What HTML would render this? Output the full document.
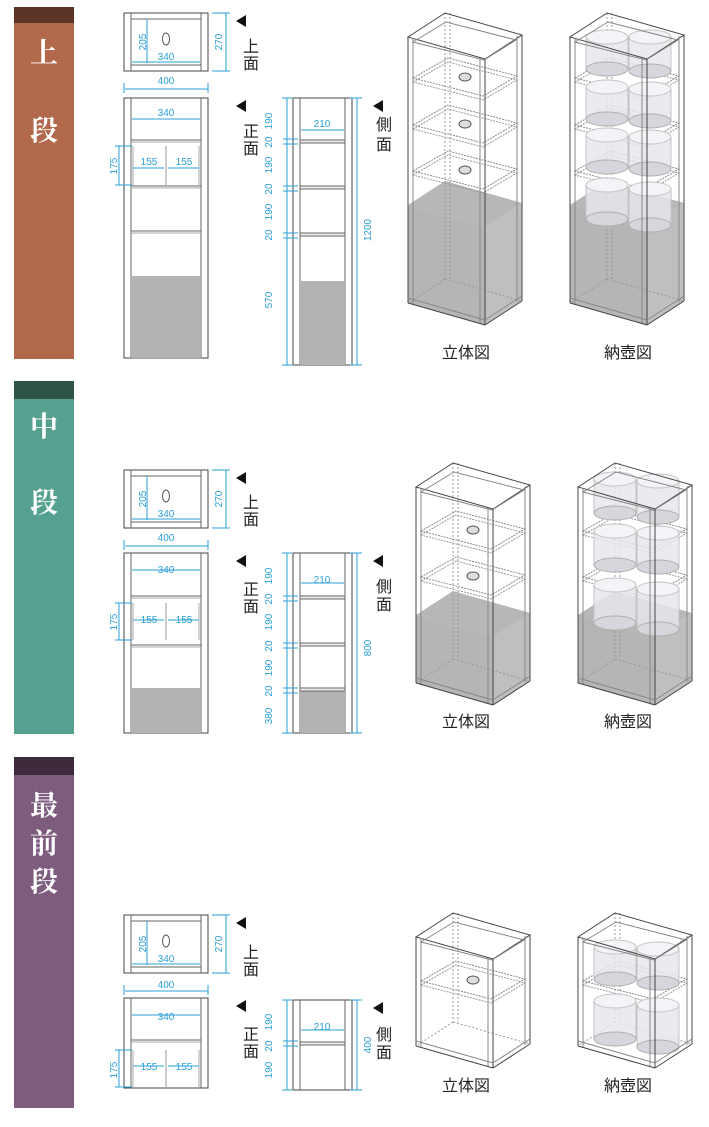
<!DOCTYPE html>
<html><head><meta charset="utf-8"><style>
html,body{margin:0;padding:0;background:#fff;width:709px;height:1127px;overflow:hidden}
svg{display:block}
.b{font-family:"Liberation Sans",sans-serif;font-size:10px;fill:#2a9fd8}
.j{font-family:"Liberation Sans","Noto Sans CJK JP",sans-serif;font-size:16px;fill:#222}
.s{font-family:"Liberation Serif","Noto Serif CJK SC",serif;font-size:28px;fill:#fff;font-weight:bold}
</style></head><body>
<svg id="s" width="709" height="1127" xmlns="http://www.w3.org/2000/svg">
<rect x="14" y="7" width="60" height="16" fill="#5b3426"/><rect x="14" y="23" width="60" height="336" fill="#b2684a"/>
<rect x="14" y="381" width="60" height="18" fill="#2e5448"/><rect x="14" y="399" width="60" height="335" fill="#56a08f"/>
<rect x="14" y="757" width="60" height="18" fill="#3d2b3c"/><rect x="14" y="775" width="60" height="333" fill="#7d5c7e"/>
<text class="s" x="44" y="62" text-anchor="middle">上</text>
<text class="s" x="44" y="140" text-anchor="middle">段</text>
<text class="s" x="44" y="436" text-anchor="middle">中</text>
<text class="s" x="44" y="512" text-anchor="middle">段</text>
<text class="s" x="44" y="815" text-anchor="middle">最</text>
<text class="s" x="44" y="853" text-anchor="middle">前</text>
<text class="s" x="44" y="891" text-anchor="middle">段</text>
<g id="g"></g>
<g class="b">
<text x="166" y="60" text-anchor="middle">340</text>
<text transform="translate(146,42) rotate(-90)" text-anchor="middle">205</text>
<text transform="translate(222,42) rotate(-90)" text-anchor="middle">270</text>
<text x="166" y="84" text-anchor="middle">400</text>
<text x="166" y="116" text-anchor="middle">340</text>
<text transform="translate(117,166) rotate(-90)" text-anchor="middle">175</text>
<text x="149" y="165" text-anchor="middle">155</text>
<text x="184" y="165" text-anchor="middle">155</text>
<text x="322" y="127" text-anchor="middle">210</text>
<text transform="translate(272,121) rotate(-90)" text-anchor="middle">190</text>
<text transform="translate(272,142) rotate(-90)" text-anchor="middle">20</text>
<text transform="translate(272,165) rotate(-90)" text-anchor="middle">190</text>
<text transform="translate(272,189) rotate(-90)" text-anchor="middle">20</text>
<text transform="translate(272,212) rotate(-90)" text-anchor="middle">190</text>
<text transform="translate(272,235) rotate(-90)" text-anchor="middle">20</text>
<text transform="translate(272,300) rotate(-90)" text-anchor="middle">570</text>
<text transform="translate(371,230) rotate(-90)" text-anchor="middle">1200</text>
</g>
<g class="b">
<text x="166" y="517" text-anchor="middle">340</text>
<text transform="translate(146,499) rotate(-90)" text-anchor="middle">205</text>
<text transform="translate(222,499) rotate(-90)" text-anchor="middle">270</text>
<text x="166" y="541" text-anchor="middle">400</text>
<text x="166" y="573" text-anchor="middle">340</text>
<text transform="translate(117,622) rotate(-90)" text-anchor="middle">175</text>
<text x="149" y="623" text-anchor="middle">155</text>
<text x="184" y="623" text-anchor="middle">155</text>
<text x="322" y="583" text-anchor="middle">210</text>
<text transform="translate(272,576) rotate(-90)" text-anchor="middle">190</text>
<text transform="translate(272,599) rotate(-90)" text-anchor="middle">20</text>
<text transform="translate(272,622) rotate(-90)" text-anchor="middle">190</text>
<text transform="translate(272,646) rotate(-90)" text-anchor="middle">20</text>
<text transform="translate(272,668) rotate(-90)" text-anchor="middle">190</text>
<text transform="translate(272,691) rotate(-90)" text-anchor="middle">20</text>
<text transform="translate(272,716) rotate(-90)" text-anchor="middle">380</text>
<text transform="translate(371,648) rotate(-90)" text-anchor="middle">800</text>
</g>
<g class="b">
<text x="166" y="962" text-anchor="middle">340</text>
<text transform="translate(146,944) rotate(-90)" text-anchor="middle">205</text>
<text transform="translate(222,944) rotate(-90)" text-anchor="middle">270</text>
<text x="166" y="988" text-anchor="middle">400</text>
<text x="166" y="1020" text-anchor="middle">340</text>
<text transform="translate(117,1070) rotate(-90)" text-anchor="middle">175</text>
<text x="149" y="1070" text-anchor="middle">155</text>
<text x="184" y="1070" text-anchor="middle">155</text>
<text x="322" y="1030" text-anchor="middle">210</text>
<text transform="translate(272,1022) rotate(-90)" text-anchor="middle">190</text>
<text transform="translate(272,1046) rotate(-90)" text-anchor="middle">20</text>
<text transform="translate(272,1070) rotate(-90)" text-anchor="middle">190</text>
<text transform="translate(371,1045) rotate(-90)" text-anchor="middle">400</text>
</g>
<g class="j">
<text x="243" y="52">上</text><text x="243" y="69">面</text>
<text x="243" y="137">正</text><text x="243" y="154">面</text>
<text x="376" y="130">側</text><text x="376" y="150">面</text>
<text x="243" y="508">上</text><text x="243" y="525">面</text>
<text x="243" y="595">正</text><text x="243" y="612">面</text>
<text x="376" y="592">側</text><text x="376" y="610">面</text>
<text x="243" y="958">上</text><text x="243" y="975">面</text>
<text x="243" y="1040">正</text><text x="243" y="1057">面</text>
<text x="376" y="1040">側</text><text x="376" y="1058">面</text>
<text x="442" y="358">立体図</text><text x="604" y="358">納壺図</text>
<text x="442" y="727">立体図</text><text x="604" y="727">納壺図</text>
<text x="442" y="1091">立体図</text><text x="604" y="1091">納壺図</text>
</g>
</svg>
<script>
var G=document.getElementById('g'),h='';
function L(x1,y1,x2,y2,c,w,d){h+='<line x1="'+x1+'" y1="'+y1+'" x2="'+x2+'" y2="'+y2+'" stroke="'+(c||'#555')+'" stroke-width="'+(w||1)+'"'+(d?' stroke-dasharray="'+d+'"':'')+'/>';}
function R(x,y,w,hh,f,s){h+='<rect x="'+x+'" y="'+y+'" width="'+w+'" height="'+hh+'" fill="'+(f||'none')+'" stroke="'+(s||'none')+'"/>';}
function P(pts,f,s,d,o){h+='<polygon points="'+pts.map(function(p){return p.join(',');}).join(' ')+'" fill="'+(f||'none')+'" stroke="'+(s||'none')+'"'+(d?' stroke-dasharray="'+d+'"':'')+(o?' fill-opacity="'+o+'"':'')+'/>';}
var B='#2a9fd8';
function tri(x,y){P([[x,y+6],[x+10,y],[x+10,y+12]],'#111');}
function topv(y){R(124,y,84,58,'none','#444');L(131,y,131,y+58,'#666');L(201,y,201,y+58,'#666');L(131,y+6,201,y+6,'#666');L(131,y+52,201,y+52,'#666');
 h+='<ellipse cx="166" cy="'+(y+26)+'" rx="3.5" ry="6" fill="none" stroke="#555"/>';
 L(147,y+6,147,y+50,B);L(132,y+49,200,y+49,B);L(226,y,226,y+58,B);L(212,y,230,y,B);L(212,y+58,230,y+58,B);
 L(125,y+76,208,y+76,B);L(124,y+70,124,y+80,B);L(208,y+70,208,y+80,B);tri(236,y+2);}
function frontv(y0,y1,sh,gray,d340,d175a,d175b,d155){R(124,y0,84,y1-y0,'none','#444');L(131,y0,131,y1,'#666');L(201,y0,201,y1,'#666');
 if(gray)R(131,gray,70,y1-gray,'#b3b3b3');
 sh.forEach(function(s){L(131,s,201,s,'#666');L(131,s+2,201,s+2,'#aaa');});
 L(166,d175a,166,d175b,'#999');L(133,d175a,133,d175b,'#aaa');L(199,d175a,199,d175b,'#aaa');
 L(132,d340,200,d340,B);L(119,d175a,119,d175b,B);L(115,d175a,132,d175a,B);L(115,d175b,132,d175b,B);
 L(133,d155,164,d155,B);L(168,d155,199,d155,B);tri(236,y0+2);}
function sidev(y0,y1,sh,gray,d210,ticks){R(293,y0,59,y1-y0,'none','#444');L(300,y0,300,y1,'#666');L(345,y0,345,y1,'#666');
 if(gray)R(300,gray,45,y1-gray,'#b3b3b3');
 sh.forEach(function(s){R(300,s,45,3,'#eee','#666');});
 L(287,y0,287,y1,B);L(357,y0,357,y1,B);L(282,y0,292,y0,B);L(282,y1,292,y1,B);L(350,y0,362,y0,B);L(350,y1,362,y1,B);
 ticks.forEach(function(t){L(283,t,298,t,B);});L(301,d210,344,d210,B);tri(373,y0+2);}
function box(ax,y0,y1,sh,gray,pots){var dx=[77,22],dd=[37,-24],dc=[114,-2];
 function pt(y,o){return [ax+o[0],y+o[1]];}
 if(gray){var g0=gray;P([pt(g0,[0,0]),pt(g0,dd),pt(g0,dc),pt(g0,dx)],'#999',null,null,0.7);
  P([pt(g0,[0,0]),pt(g0,dx),pt(y1,dx),pt(y1,[0,0])],'#a8a8a8',null,null,0.85);
  P([pt(g0,dx),pt(g0,dc),pt(y1,dc),pt(y1,dx)],'#b4b4b4',null,null,0.85);}
 L(ax+dd[0],y0+dd[1],ax+dd[0],y1+dd[1],'#999',1,'2,2');L(ax+dd[0]+5,y0+dd[1],ax+dd[0]+5,y1+dd[1],'#999',1,'2,2');
 L(ax+dd[0],y1+dd[1],ax,y1,'#999',1,'2,2');L(ax+dd[0],y1+dd[1],ax+dc[0],y1+dc[1],'#999',1,'2,2');
 sh.forEach(function(s){P([pt(s,[5,0]),pt(s,[40,-20]),pt(s,[109,-2]),pt(s,[75,18])],'none','#888','2,1');
  P([pt(s+4,[5,0]),pt(s+4,[40,-20]),pt(s+4,[109,-2]),pt(s+4,[75,18])],'none','#999','2,1');
  if(!pots)h+='<ellipse cx="'+(ax+57)+'" cy="'+(s-1)+'" rx="6" ry="4" fill="#ddd" stroke="#555"/>';});
 if(pots)pots.forEach(function(p){var cx=ax+p[0],cy=p[1]+7,w=21,hh=p[2]-14;
  h+='<rect x="'+(cx-w)+'" y="'+cy+'" width="'+(2*w)+'" height="'+hh+'" fill="#e6e6ec" fill-opacity="0.85" stroke="#c4c4c4"/>';
  h+='<ellipse cx="'+cx+'" cy="'+(cy+hh)+'" rx="'+w+'" ry="7" fill="#d6d6dc" stroke="#b0b0b0"/>';
  h+='<ellipse cx="'+cx+'" cy="'+cy+'" rx="'+w+'" ry="7" fill="#f4f4f8" stroke="#c4c4c4"/>';});
 P([pt(y0,[0,0]),pt(y0,dd),pt(y0,dc),pt(y0,dx)],'none','#444');
 P([pt(y0+5,[5,0]),pt(y0+5,[38,-20]),pt(y0+5,[108,-2]),pt(y0+5,[76,18])],'none','#888');
 L(ax,y0,ax,y1,'#444');L(ax+5,y0+1,ax+5,y1+1,'#888');
 L(ax+dx[0],y0+dx[1],ax+dx[0],y1+dx[1],'#444');L(ax+dx[0]-5,y0+dx[1]-1,ax+dx[0]-5,y1+dx[1]-1,'#888');
 L(ax+dc[0],y0+dc[1],ax+dc[0],y1+dc[1],'#444');L(ax+dc[0]-5,y0+dc[1]+1,ax+dc[0]-5,y1+dc[1]+1,'#888');
 L(ax,y1,ax+dx[0],y1+dx[1],'#444');L(ax+dx[0],y1+dx[1],ax+dc[0],y1+dc[1],'#444');
 L(ax,y1-5,ax+dx[0],y1+dx[1]-5,'#888');L(ax+dx[0],y1+dx[1]-5,ax+dc[0],y1+dc[1]-5,'#888');}
topv(13);frontv(98,358,[140,186,231],276,119,146,185,168);
sidev(98,365,[140,186,233],281,130,[139,144,186,191,233,238]);
box(408,37,303,[78,125,171],205,null);
box(570,37,303,[78,125,171],205,[[37,30,46],[80,30,48],[37,80,46],[80,82,46],[37,128,46],[80,130,46],[37,178,48],[80,182,50]]);
topv(470);frontv(553,733,[596,645],688,570,603,640,620);
sidev(553,733,[596,643,688],688,583,[596,601,643,648,688,693]);
box(416,487,683,[531,577],615,null);
box(578,487,683,[531,577],615,[[37,472,48],[80,474,50],[37,524,48],[80,526,48],[37,578,52],[80,582,54]]);
topv(915);frontv(998,1088,[1040],null,1015,1050,1087,1066);
sidev(1000,1090,[1042],null,1030,[1041,1046]);
box(416,937,1046,[981],null,null);
box(578,937,1046,[981],null,[[37,940,46],[80,942,48],[37,994,52],[80,998,56]]);
G.innerHTML=h;
</script>
</body></html>
